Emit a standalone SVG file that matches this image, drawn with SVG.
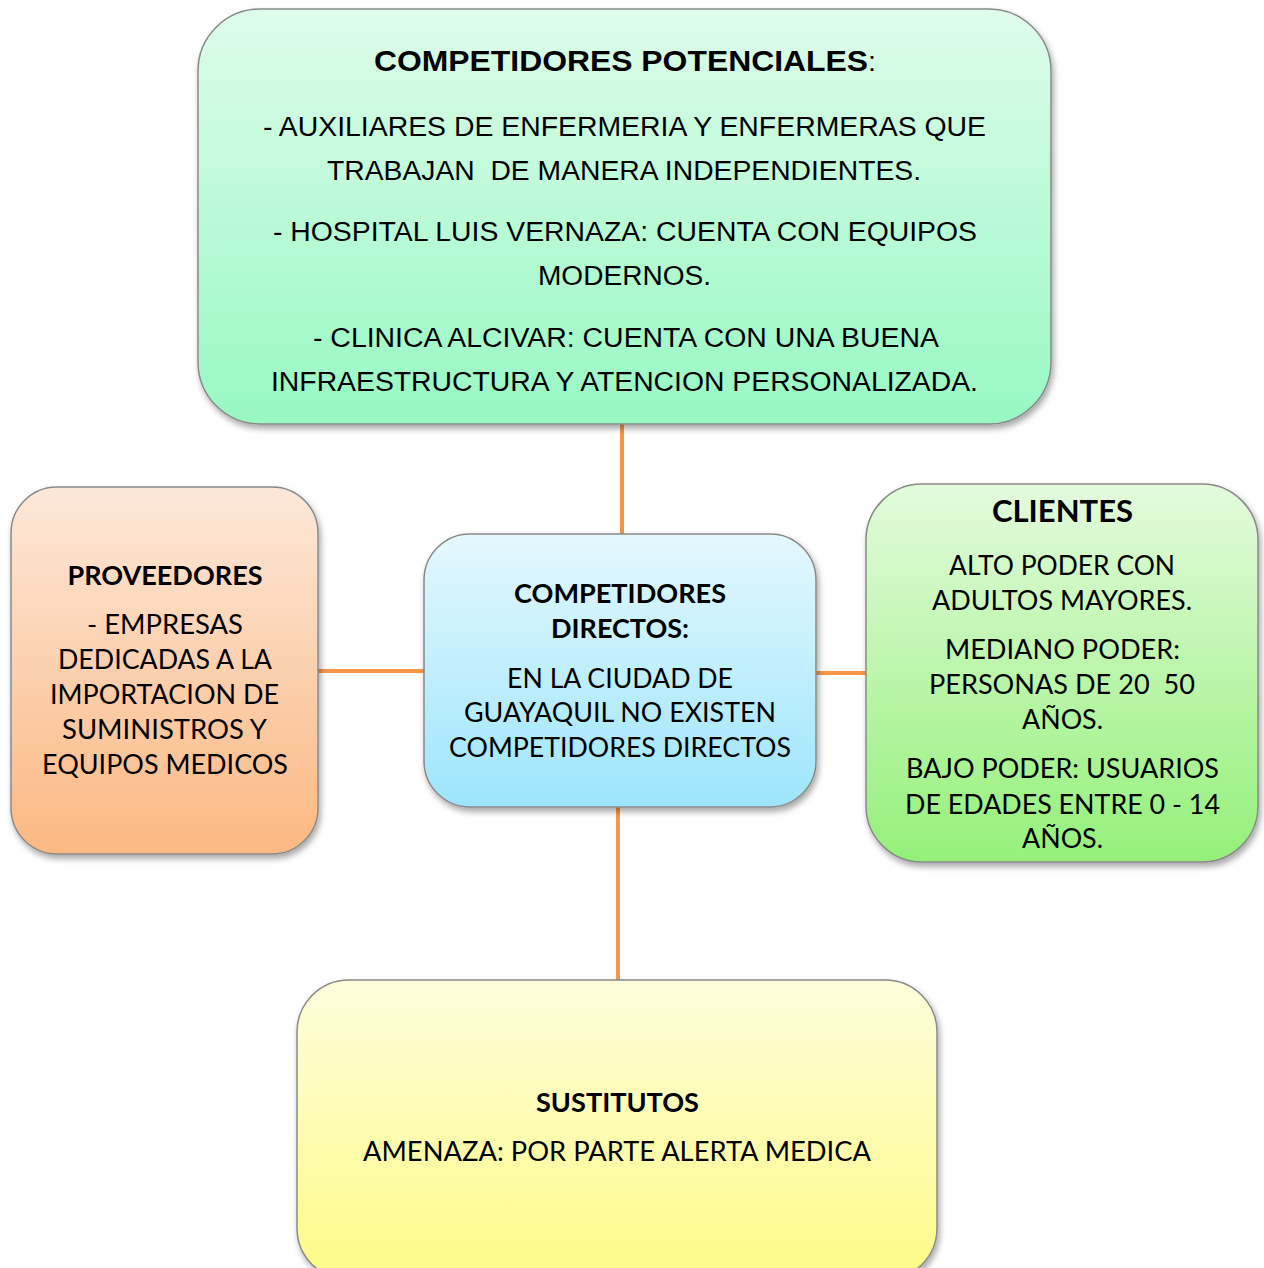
<svg xmlns="http://www.w3.org/2000/svg" width="1264" height="1268" viewBox="0 0 1264 1268" xml:space="preserve">
<style>
text{white-space:pre}
.box{stroke:#8a8a8a;stroke-width:1.5;filter:url(#sh)}
.a{font-family:"Liberation Sans",Arial,sans-serif;font-size:27px;fill:#000;text-anchor:middle}
.ab{font-weight:bold;font-size:30px}
.c{font-family:Lato,"Open Sans",sans-serif;font-size:26px;fill:#000;text-anchor:middle}
.cb{font-weight:bold}
.conn{stroke:#f79646;stroke-width:4;fill:none}
</style>
<defs>
<filter id="sh" x="-10%" y="-10%" width="125%" height="125%">
<feDropShadow dx="2" dy="4" stdDeviation="3" flood-color="#000" flood-opacity="0.35"/>
</filter>
<linearGradient id="gTop" x1="0" y1="0" x2="0" y2="1"><stop offset="0" stop-color="#defcea"/><stop offset="1" stop-color="#97f8c3"/></linearGradient>
<linearGradient id="gLeft" x1="0" y1="0" x2="0" y2="1"><stop offset="0" stop-color="#fde8d9"/><stop offset="1" stop-color="#fbb882"/></linearGradient>
<linearGradient id="gMid" x1="0" y1="0" x2="0" y2="1"><stop offset="0" stop-color="#e4f8fd"/><stop offset="1" stop-color="#9de5fb"/></linearGradient>
<linearGradient id="gRight" x1="0" y1="0" x2="0" y2="1"><stop offset="0" stop-color="#e3fbdc"/><stop offset="1" stop-color="#95f07a"/></linearGradient>
<linearGradient id="gBot" x1="0" y1="0" x2="0" y2="1"><stop offset="0" stop-color="#fefddc"/><stop offset="1" stop-color="#fdfb86"/></linearGradient>
</defs>
<rect width="1264" height="1268" fill="#fff"/>
<g id="connectors">
<line class="conn" x1="622" y1="420" x2="622" y2="538"/>
<line class="conn" x1="314" y1="671" x2="428" y2="671"/>
<line class="conn" x1="812" y1="673" x2="870" y2="673"/>
<line class="conn" x1="618" y1="803" x2="618" y2="984"/>
</g>
<g id="competidores-potenciales">
<rect class="box" x="198" y="9" width="853" height="415" rx="62" fill="url(#gTop)"/>
<text class="a" x="625" y="71" textLength="502" lengthAdjust="spacingAndGlyphs"><tspan class="ab">COMPETIDORES POTENCIALES</tspan>:</text>
<text class="a" x="624.5" y="136" textLength="723" lengthAdjust="spacingAndGlyphs">- AUXILIARES DE ENFERMERIA Y ENFERMERAS QUE</text>
<text class="a" x="624" y="180" textLength="594" lengthAdjust="spacingAndGlyphs">TRABAJAN  DE MANERA INDEPENDIENTES.</text>
<text class="a" x="625" y="241" textLength="704" lengthAdjust="spacingAndGlyphs">- HOSPITAL LUIS VERNAZA: CUENTA CON EQUIPOS</text>
<text class="a" x="624.5" y="285" textLength="173" lengthAdjust="spacingAndGlyphs">MODERNOS.</text>
<text class="a" x="626" y="347" textLength="626" lengthAdjust="spacingAndGlyphs">- CLINICA ALCIVAR: CUENTA CON UNA BUENA</text>
<text class="a" x="624.5" y="391" textLength="707" lengthAdjust="spacingAndGlyphs">INFRAESTRUCTURA Y ATENCION PERSONALIZADA.</text>
</g>
<g id="proveedores">
<rect class="box" x="11" y="487" width="307" height="367" rx="46" fill="url(#gLeft)"/>
<text class="c cb" x="165" y="585" textLength="195" lengthAdjust="spacingAndGlyphs">PROVEEDORES</text>
<text class="c" x="165" y="634" textLength="156" lengthAdjust="spacingAndGlyphs">- EMPRESAS</text>
<text class="c" x="165" y="669" textLength="214" lengthAdjust="spacingAndGlyphs">DEDICADAS A LA</text>
<text class="c" x="164.5" y="704" textLength="229" lengthAdjust="spacingAndGlyphs">IMPORTACION DE</text>
<text class="c" x="164.5" y="739" textLength="205" lengthAdjust="spacingAndGlyphs">SUMINISTROS Y</text>
<text class="c" x="165" y="774" textLength="246" lengthAdjust="spacingAndGlyphs">EQUIPOS MEDICOS</text>
</g>
<g id="competidores-directos">
<rect class="box" x="424" y="534" width="392" height="273" rx="46" fill="url(#gMid)"/>
<text class="c cb" x="620" y="603" textLength="212" lengthAdjust="spacingAndGlyphs">COMPETIDORES</text>
<text class="c cb" x="620" y="638" textLength="138" lengthAdjust="spacingAndGlyphs">DIRECTOS:</text>
<text class="c" x="620" y="688" textLength="226" lengthAdjust="spacingAndGlyphs">EN LA CIUDAD DE</text>
<text class="c" x="620" y="722" textLength="312" lengthAdjust="spacingAndGlyphs">GUAYAQUIL NO EXISTEN</text>
<text class="c" x="620" y="757" textLength="342" lengthAdjust="spacingAndGlyphs">COMPETIDORES DIRECTOS</text>
</g>
<g id="clientes">
<rect class="box" x="866" y="484" width="392" height="378" rx="56" fill="url(#gRight)"/>
<text class="c cb" x="1062.5" y="522" style="font-size:31px" textLength="141" lengthAdjust="spacingAndGlyphs">CLIENTES</text>
<text class="c" x="1062" y="575" textLength="226" lengthAdjust="spacingAndGlyphs">ALTO PODER CON</text>
<text class="c" x="1062" y="610" textLength="260" lengthAdjust="spacingAndGlyphs">ADULTOS MAYORES.</text>
<text class="c" x="1062.5" y="659" textLength="235" lengthAdjust="spacingAndGlyphs">MEDIANO PODER:</text>
<text class="c" x="1062" y="694" textLength="266" lengthAdjust="spacingAndGlyphs">PERSONAS DE 20  50</text>
<text class="c" x="1062.5" y="729" textLength="81" lengthAdjust="spacingAndGlyphs">AÑOS.</text>
<text class="c" x="1062.5" y="778" textLength="313" lengthAdjust="spacingAndGlyphs">BAJO PODER: USUARIOS</text>
<text class="c" x="1062.5" y="814" textLength="315" lengthAdjust="spacingAndGlyphs">DE EDADES ENTRE 0 - 14</text>
<text class="c" x="1062.5" y="848" textLength="81" lengthAdjust="spacingAndGlyphs">AÑOS.</text>
</g>
<g id="sustitutos">
<rect class="box" x="297" y="980" width="640" height="300" rx="52" fill="url(#gBot)"/>
<text class="c cb" x="617.5" y="1112" textLength="163" lengthAdjust="spacingAndGlyphs">SUSTITUTOS</text>
<text class="c" x="617" y="1161" textLength="508" lengthAdjust="spacingAndGlyphs">AMENAZA: POR PARTE ALERTA MEDICA</text>
</g>
</svg>
